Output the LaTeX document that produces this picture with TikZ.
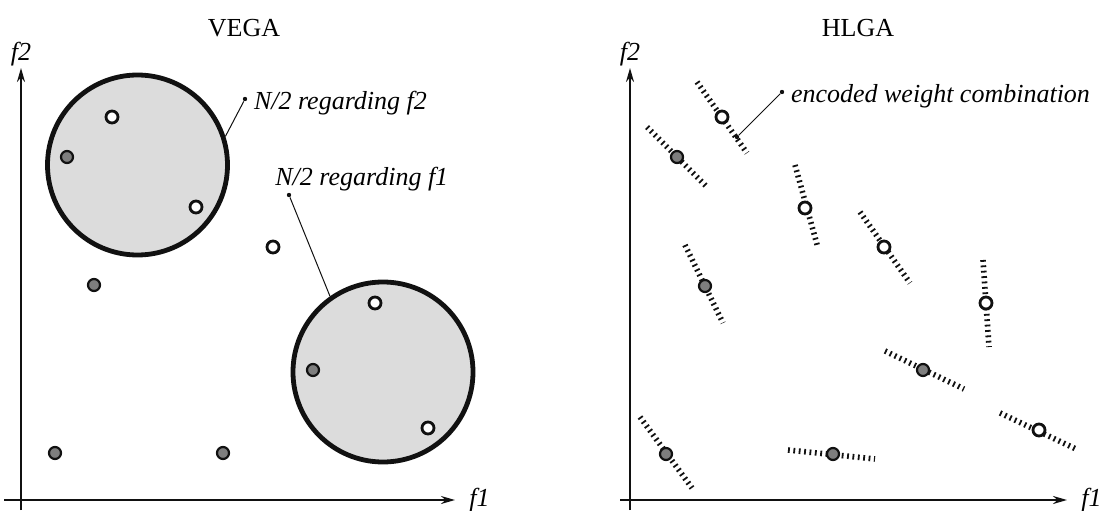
\documentclass[tikz,border=0pt]{standalone}
\usepackage{fontspec}
\setmainfont{Liberation Serif}
\usetikzlibrary{arrows.meta,positioning}
\definecolor{ink}{HTML}{111111}
\definecolor{shade}{HTML}{DCDCDC}
\definecolor{mid}{HTML}{7E7E7E}

\begin{document}
\begin{tikzpicture}[x=0.5pt,y=0.5pt,every node/.style={font=\fontsize{13}{15}\selectfont},
 axis/.style={ink,line width=1pt,-{Stealth[length=7pt,width=4pt]}},
 lab/.style={font=\fontsize{13}{15}\selectfont\itshape,inner sep=0pt},
 group/.style={circle,draw=ink,line width=2.4pt,fill=shade,minimum size=90pt,inner sep=0pt},
 pt/.style={circle,draw=ink,line width=1.1pt,fill=mid,minimum size=6pt,inner sep=0pt},
 wpt/.style={pt,fill=white,line width=1.4pt},
 tip/.style={circle,fill=ink,minimum size=2.2pt,inner sep=0pt},
 lead/.style={ink,line width=0.5pt},
 hatch/.style={ink,line width=2.8pt,dash pattern=on 0.9pt off 1.8pt}]
\useasboundingbox (0,0) rectangle (1104,510);
% VEGA
\node (vega) at (244,482) {VEGA};
\coordinate (y1s) at (21,0);\coordinate (y1e) at (21,442);
\coordinate (x1s) at (4,10);\coordinate (x1e) at (455,10);
\draw[axis](y1s)--(y1e);\draw[axis](x1s)--(x1e);
\node[lab,above=1pt of y1e](f2a){f2};
\node[lab,right=7pt of x1e](f1a){f1};
\node[group](half2) at (137.5,345){};
\node[group](half1) at (383,138){};
\foreach \n/\x/\y/\s in {v1/112/393/wpt,v2/67/353/pt,v3/196/303/wpt,v4/375/207/wpt,v5/313/140/pt,
 v6/428/82/wpt,v7/273/263/wpt,v8/94/225/pt,v9/55/57/pt,v10/223/57/pt}{\node[\s](\n) at (\x,\y){};}
\node[tip](t2) at (245,411){};
\node[lab,right=3pt of t2,yshift=-2pt](l2){N/2 regarding f2};
\draw[lead](t2)--(half2.18);
\node[tip](t1) at (289,315){};
\node[lab,anchor=south west](l1) at (275,319){N/2 regarding f1};
\draw[lead](t1)--(half1.125);
% HLGA
\node (hlga) at (858,482) {HLGA};
\coordinate (y2s) at (630,0);\coordinate (y2e) at (630,442);
\coordinate (x2s) at (620,10);\coordinate (x2e) at (1067,10);
\draw[axis](y2s)--(y2e);\draw[axis](x2s)--(x2e);
\node[lab,above=1pt of y2e](f2b){f2};
\node[lab,right=7pt of x2e](f1b){f1};
\foreach \ax/\ay/\bx/\by in {697/428/747/357,647/383/708/322,795/345/818/262,860/298/910/227,685/265/723/187,
 983/250/989/163,885/159/964/121,1000/97/1078/60,640/93/692/22,788/60/875/51}{\draw[hatch](\ax,\ay)--(\bx,\by);}
\foreach \n/\x/\y/\s in {h1/722/393/wpt,h2/677/353/pt,h3/805/302/wpt,h4/884/263/wpt,h5/705/224/pt,
 h6/986/207/wpt,h7/923/140/pt,h8/1039/80/wpt,h9/666/56/pt,h10/833/56/pt}{\node[\s](\n) at (\x,\y){};}
\node[tip](te) at (782,418){};
\node[tip](te2) at (737,373){};
\node[lab,right=3pt of te,yshift=-2pt](le){encoded weight combination};
\draw[lead](te)--(te2);
\end{tikzpicture}
\end{document}
